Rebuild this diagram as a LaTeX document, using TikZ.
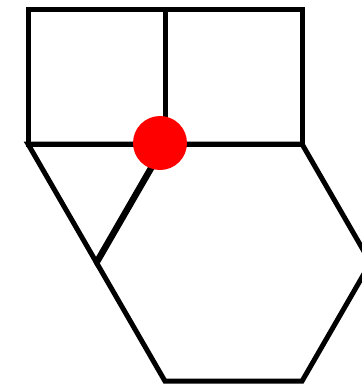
\documentclass[tikz,border=0pt]{standalone}
\begin{document}
\begin{tikzpicture}[x=1pt,y=-1pt,
  edge/.style={draw=black,line width=5pt,line join=miter},
  dot/.style={fill=red}]
\useasboundingbox (0,0) rectangle (362,384);
\clip (0,0) rectangle (362,384);
\fill[white] (0,0) rectangle (362,384);
\coordinate (A) at (28,144);
\coordinate (V) at (165,144);
\coordinate (R) at (302,144);
\coordinate (TL) at (28,9);
\coordinate (TM) at (165,9);
\coordinate (TR) at (302,9);
\coordinate (T) at (96.5,262.6);
\coordinate (H3) at (370.5,262.6);
\coordinate (H4) at (302,381.2);
\coordinate (H5) at (165,381.2);
% squares
\draw[edge] (A) -- (TL) -- (TM) -- (V) -- cycle;
\draw[edge] (V) -- (TM) -- (TR) -- (R) -- cycle;
% triangle
\draw[edge] (A) -- (V) -- (T) -- cycle;
% hexagon
\draw[edge] (V) -- (R) -- (H3) -- (H4) -- (H5) -- (T) -- cycle;
\draw[line width=6.5pt] (T) -- (V);
% red dot
\fill[dot] (160,143) circle (27);
\end{tikzpicture}
\end{document}
